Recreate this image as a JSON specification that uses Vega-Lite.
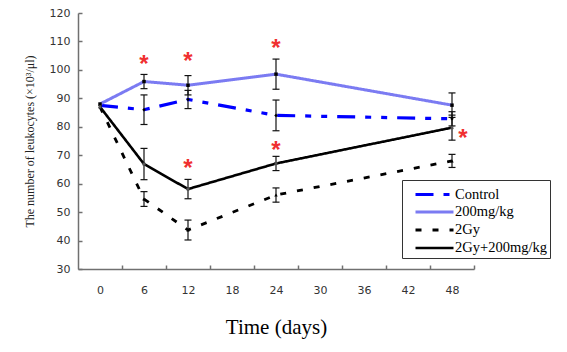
{
  "$schema": "https://vega.github.io/schema/vega-lite/v6.json",
  "width": 396,
  "height": 256,
  "autosize": {"type": "none"},
  "padding": {"left": 78, "top": 13, "right": 93, "bottom": 83},
  "background": "white",
  "datasets": {
    "series": [
      {"group": "Control", "day": 0, "value": 87.5, "lo": null, "hi": null},
      {"group": "Control", "day": 6, "value": 86, "lo": 80.8, "hi": 91.2},
      {"group": "Control", "day": 12, "value": 89.6, "lo": 86.4, "hi": 92.8},
      {"group": "Control", "day": 24, "value": 84, "lo": 78.6, "hi": 89.4},
      {"group": "Control", "day": 48, "value": 82.8, "lo": 80.3, "hi": 85.3},
      {"group": "200mg/kg", "day": 0, "value": 88, "lo": null, "hi": null},
      {"group": "200mg/kg", "day": 6, "value": 95.9, "lo": 93.4, "hi": 98.4},
      {"group": "200mg/kg", "day": 12, "value": 94.6, "lo": 91.2, "hi": 98},
      {"group": "200mg/kg", "day": 24, "value": 98.5, "lo": 93.2, "hi": 103.8},
      {"group": "200mg/kg", "day": 48, "value": 87.6, "lo": 83.3, "hi": 91.9},
      {"group": "2Gy", "day": 0, "value": 87, "lo": null, "hi": null},
      {"group": "2Gy", "day": 6, "value": 54.6, "lo": 52, "hi": 57.2},
      {"group": "2Gy", "day": 12, "value": 43.7, "lo": 40.2, "hi": 47.2},
      {"group": "2Gy", "day": 24, "value": 56, "lo": 53.5, "hi": 58.5},
      {"group": "2Gy", "day": 48, "value": 68, "lo": 65.7, "hi": 70.3},
      {"group": "2Gy+200mg/kg", "day": 0, "value": 87, "lo": null, "hi": null},
      {"group": "2Gy+200mg/kg", "day": 6, "value": 66.9, "lo": 61.4, "hi": 72.4},
      {"group": "2Gy+200mg/kg", "day": 12, "value": 58.1, "lo": 54.7, "hi": 61.5},
      {"group": "2Gy+200mg/kg", "day": 24, "value": 67.1, "lo": 64.6, "hi": 69.6},
      {"group": "2Gy+200mg/kg", "day": 48, "value": 79.7, "lo": 75.3, "hi": 84.1}
    ],
    "stars": [
      {"day": 6, "value": 104.3},
      {"day": 12, "value": 105.2},
      {"day": 24, "value": 109.8},
      {"day": 12, "value": 67.5},
      {"day": 24, "value": 74.1},
      {"day": 49.5, "value": 78.2}
    ]
  },
  "encoding": {
    "x": {
      "field": "day", "type": "quantitative",
      "scale": {"domain": [-3, 51], "nice": false, "zero": false},
      "title": "Time (days)",
      "axis": {"values": [0, 6, 12, 18, 24, 30, 36, 42, 48], "tickOffset": 22, "labelOffset": -22, "grid": false, "labelPadding": 19, "titlePadding": 21, "titleFontSize": 21, "titleFont": "Liberation Serif", "titleFontWeight": "normal", "titleColor": "#000", "labelOverlap": false}
    },
    "y": {
      "field": "value", "type": "quantitative",
      "scale": {"domain": [30, 120], "nice": false, "zero": false},
      "title": "The number of leukocytes (×10³/μl)",
      "axis": {"values": [30, 40, 50, 60, 70, 80, 90, 100, 110, 120], "grid": false, "labelPadding": 12, "titlePadding": 13, "titleFontSize": 12, "titleFont": "Liberation Serif", "titleFontWeight": "normal", "titleColor": "#222", "labelOverlap": false, "labelBound": false, "labelSeparation": 0}
    }
  },
  "layer": [
    {
      "data": {"name": "series"},
      "transform": [{"filter": "datum.lo != null"}],
      "mark": {"type": "rule", "color": "#111", "strokeWidth": 1.2},
      "encoding": {
        "y": {
          "field": "lo", "type": "quantitative",
          "scale": {"domain": [30, 120], "nice": false, "zero": false},
          "title": "The number of leukocytes (×10³/μl)",
          "axis": {"values": [30, 40, 50, 60, 70, 80, 90, 100, 110, 120], "grid": false, "labelPadding": 12, "titlePadding": 13, "titleFontSize": 12, "titleFont": "Liberation Serif", "titleFontWeight": "normal", "titleColor": "#222", "labelOverlap": false, "labelBound": false, "labelSeparation": 0}
        },
        "y2": {"field": "hi"}
      }
    },
    {
      "data": {"name": "series"},
      "transform": [{"filter": "datum.lo != null"}],
      "mark": {"type": "tick", "orient": "horizontal", "color": "#111", "thickness": 1.2, "size": 7, "opacity": 1},
      "encoding": {"y": {"field": "lo", "type": "quantitative", "title": "The number of leukocytes (×10³/μl)"}}
    },
    {
      "data": {"name": "series"},
      "transform": [{"filter": "datum.lo != null"}],
      "mark": {"type": "tick", "orient": "horizontal", "color": "#111", "thickness": 1.2, "size": 7, "opacity": 1},
      "encoding": {"y": {"field": "hi", "type": "quantitative", "title": "The number of leukocytes (×10³/μl)"}}
    },
    {
      "data": {"name": "series"},
      "mark": {"type": "line"},
      "encoding": {
        "color": {
          "field": "group", "type": "nominal",
          "scale": {"domain": ["Control", "200mg/kg", "2Gy", "2Gy+200mg/kg"], "range": ["#0000FF", "#7B7BF2", "#000000", "#000000"]},
          "legend": {"title": null}
        },
        "strokeDash": {
          "field": "group", "type": "nominal",
          "scale": {"domain": ["Control", "200mg/kg", "2Gy", "2Gy+200mg/kg"], "range": [[18, 10, 6, 10, 6, 10], [1, 0], [6, 11], [1, 0]]},
          "legend": {"title": null}
        },
        "strokeWidth": {
          "field": "group", "type": "nominal",
          "scale": {"domain": ["Control", "200mg/kg", "2Gy", "2Gy+200mg/kg"], "range": [3.2, 2.6, 3.6, 2.8]},
          "legend": {"title": null}
        }
      }
    },
    {
      "data": {"name": "series"},
      "transform": [{"filter": "datum.group == 'Control'"}],
      "mark": {"type": "point", "shape": "diamond", "filled": true, "size": 12, "color": "#000", "opacity": 1}
    },
    {
      "data": {"name": "series"},
      "transform": [{"filter": "datum.group == '200mg/kg'"}],
      "mark": {"type": "point", "shape": "square", "filled": true, "size": 12, "color": "#000", "opacity": 1}
    },
    {
      "data": {"name": "series"},
      "transform": [{"filter": "datum.group == '2Gy'"}],
      "mark": {"type": "point", "shape": "triangle-up", "filled": true, "size": 12, "color": "#000", "opacity": 1}
    },
    {
      "data": {"name": "series"},
      "transform": [{"filter": "datum.group == '2Gy+200mg/kg'"}],
      "mark": {"type": "point", "shape": "cross", "angle": 45, "filled": true, "size": 14, "color": "#555", "opacity": 1}
    },
    {
      "data": {"name": "stars"},
      "mark": {"type": "text", "text": "*", "font": "Liberation Sans", "fontSize": 24, "fontWeight": "bold", "color": "#F03030", "baseline": "alphabetic", "dy": 14}
    }
  ],
  "config": {
    "view": {"stroke": null},
    "axis": {
      "domainColor": "#707070", "domainWidth": 1.5,
      "tickColor": "#707070", "tickWidth": 1.5, "tickSize": -4,
      "labelFont": "DejaVu Sans", "labelFontSize": 11, "labelColor": "#333",
      "labelOverlap": false
    },
    "axisY": {"labelOverlap": false},
    "legend": {
      "orient": "none", "legendX": 324, "legendY": 167,
      "strokeColor": "#333", "fillColor": "white", "padding": 3,
      "symbolType": "M-2,0H2", "symbolSize": 361, "symbolOffset": 18,
      "labelFont": "Liberation Serif", "labelFontSize": 14.5, "labelColor": "#000",
      "labelOffset": 9, "rowPadding": 0
    }
  }
}
